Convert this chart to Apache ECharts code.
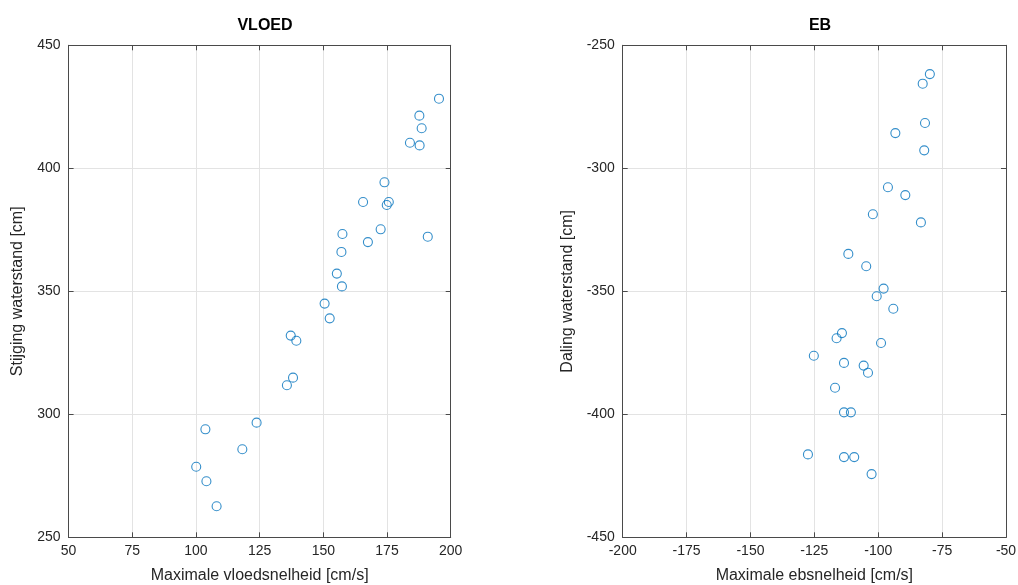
<!DOCTYPE html>
<html>
<head>
<meta charset="utf-8">
<script src="https://cdn.jsdelivr.net/npm/echarts@6/dist/echarts.min.js"></script>
<style>
	html, body { margin: 0; padding: 0; background: #fff; }
	#chart { width: 1018px; height: 585px; }
</style>
</head>
<body>
<div id="chart"></div>
<script>
// VLOED: max vloedsnelheid [cm/s] vs stijging waterstand [cm]
var vloedX = [195.4, 187.7, 188.6, 184.0, 187.8, 174.0, 165.6, 175.7, 174.9, 172.5,
	191.0, 157.5, 167.5, 157.1, 155.3, 157.3, 150.5, 152.5, 137.2, 139.4,
	138.1, 135.7, 123.8, 103.7, 118.2, 100.1, 104.1, 108.1];
var vloedY = [428.3, 421.4, 416.3, 410.4, 409.3, 394.3, 386.3, 386.3, 385.1, 375.2,
	372.2, 373.3, 370.0, 366.0, 357.2, 352.0, 345.0, 339.0, 332.0, 329.9,
	314.9, 311.8, 296.6, 293.9, 285.8, 278.7, 272.8, 262.6];

// EB: max ebsnelheid [cm/s] vs daling waterstand [cm]
var ebX = [-79.8, -82.6, -81.7, -93.3, -82.0, -96.2, -89.4, -102.1, -83.3, -111.7,
	-104.7, -97.9, -100.6, -94.1, -114.2, -116.3, -98.9, -125.2, -113.4, -105.7,
	-104.0, -116.9, -113.4, -110.7, -127.5, -113.4, -109.4, -102.6];
var ebY = [-261.7, -265.6, -281.6, -285.7, -292.7, -307.7, -310.9, -318.7, -322.0, -334.8,
	-339.8, -348.9, -352.0, -357.1, -367.0, -369.1, -371.0, -376.2, -379.1, -380.2,
	-383.1, -389.2, -399.2, -399.2, -416.3, -417.4, -417.4, -424.3];

var titles = ['VLOED', 'EB'];
var xNames = ['Maximale vloedsnelheid [cm/s]', 'Maximale ebsnelheid [cm/s]'];
var yNames = ['Stijging waterstand [cm]', 'Daling waterstand [cm]'];

function pairs(xs, ys) {
	var out = [];
	for (var i = 0; i < xs.length; i++) {
		out.push([xs[i], ys[i]]);
	}
	return out;
}

var font = 'Liberation Sans, Arial, sans-serif';
var axisColor = '#4a4a4a';
var textColor = '#262626';

function mainX(gi, min, max, name) {
	return {
		gridIndex: gi, type: 'value', min: min, max: max, interval: 25,
		position: 'bottom',
		name: name, nameLocation: 'middle', nameGap: 30,
		nameTextStyle: { fontSize: 16, color: textColor, fontFamily: font },
		axisLine: { show: true, onZero: false, lineStyle: { color: axisColor } },
		axisTick: { show: true, inside: true, length: 5, lineStyle: { color: axisColor } },
		axisLabel: { fontSize: 14, color: textColor, fontFamily: font, margin: 7 },
		splitLine: { show: true, lineStyle: { color: '#e3e3e3' } }
	};
}
function boxX(gi, min, max) {
	return {
		gridIndex: gi, type: 'value', min: min, max: max, interval: 25,
		position: 'top',
		axisLine: { show: true, onZero: false, lineStyle: { color: axisColor } },
		axisTick: { show: true, inside: true, length: 5, lineStyle: { color: axisColor } },
		axisLabel: { show: false },
		splitLine: { show: false }
	};
}
function mainY(gi, min, max, name, gap) {
	return {
		gridIndex: gi, type: 'value', min: min, max: max, interval: 50,
		position: 'left',
		name: name, nameLocation: 'middle', nameGap: gap,
		nameTextStyle: { fontSize: 16, color: textColor, fontFamily: font },
		axisLine: { show: true, onZero: false, lineStyle: { color: axisColor } },
		axisTick: { show: true, inside: true, length: 5, lineStyle: { color: axisColor } },
		axisLabel: { fontSize: 14, color: textColor, fontFamily: font, margin: 8 },
		splitLine: { show: true, lineStyle: { color: '#e3e3e3' } }
	};
}
function boxY(gi, min, max) {
	return {
		gridIndex: gi, type: 'value', min: min, max: max, interval: 50,
		position: 'right',
		axisLine: { show: true, onZero: false, lineStyle: { color: axisColor } },
		axisTick: { show: true, inside: true, length: 5, lineStyle: { color: axisColor } },
		axisLabel: { show: false },
		splitLine: { show: false }
	};
}

var myChart = echarts.init(document.getElementById('chart'));
var option = {
	animation: false,
	backgroundColor: '#ffffff',
	title: [
		{ text: titles[0], left: 260, top: 13, textAlign: 'center',
			textStyle: { fontSize: 16, fontWeight: 'bold', color: '#000', fontFamily: font } },
		{ text: titles[1], left: 815, top: 13, textAlign: 'center',
			textStyle: { fontSize: 16, fontWeight: 'bold', color: '#000', fontFamily: font } }
	],
	grid: [
		{ left: 68.6, top: 45.3, width: 382.1, height: 492, outerBoundsMode: 'none', containLabel: false },
		{ left: 622.7, top: 45.3, width: 383.3, height: 492, outerBoundsMode: 'none', containLabel: false }
	],
	xAxis: [
		mainX(0, 50, 200, xNames[0]),
		mainX(1, -200, -50, xNames[1]),
		boxX(0, 50, 200),
		boxX(1, -200, -50)
	],
	yAxis: [
		mainY(0, 250, 450, yNames[0], 43),
		mainY(1, -450, -250, yNames[1], 47),
		boxY(0, 250, 450),
		boxY(1, -450, -250)
	],
	series: [
		{
			name: titles[0], type: 'scatter', xAxisIndex: 0, yAxisIndex: 0,
			symbol: 'circle', symbolSize: 9,
			itemStyle: { color: 'rgba(0,0,0,0)', borderColor: '#0072BD', borderWidth: 1.1 },
			data: pairs(vloedX, vloedY)
		},
		{
			name: titles[1], type: 'scatter', xAxisIndex: 1, yAxisIndex: 1,
			symbol: 'circle', symbolSize: 9,
			itemStyle: { color: 'rgba(0,0,0,0)', borderColor: '#0072BD', borderWidth: 1.1 },
			data: pairs(ebX, ebY)
		}
	]
};
myChart.setOption(option);
</script>
</body>
</html>
